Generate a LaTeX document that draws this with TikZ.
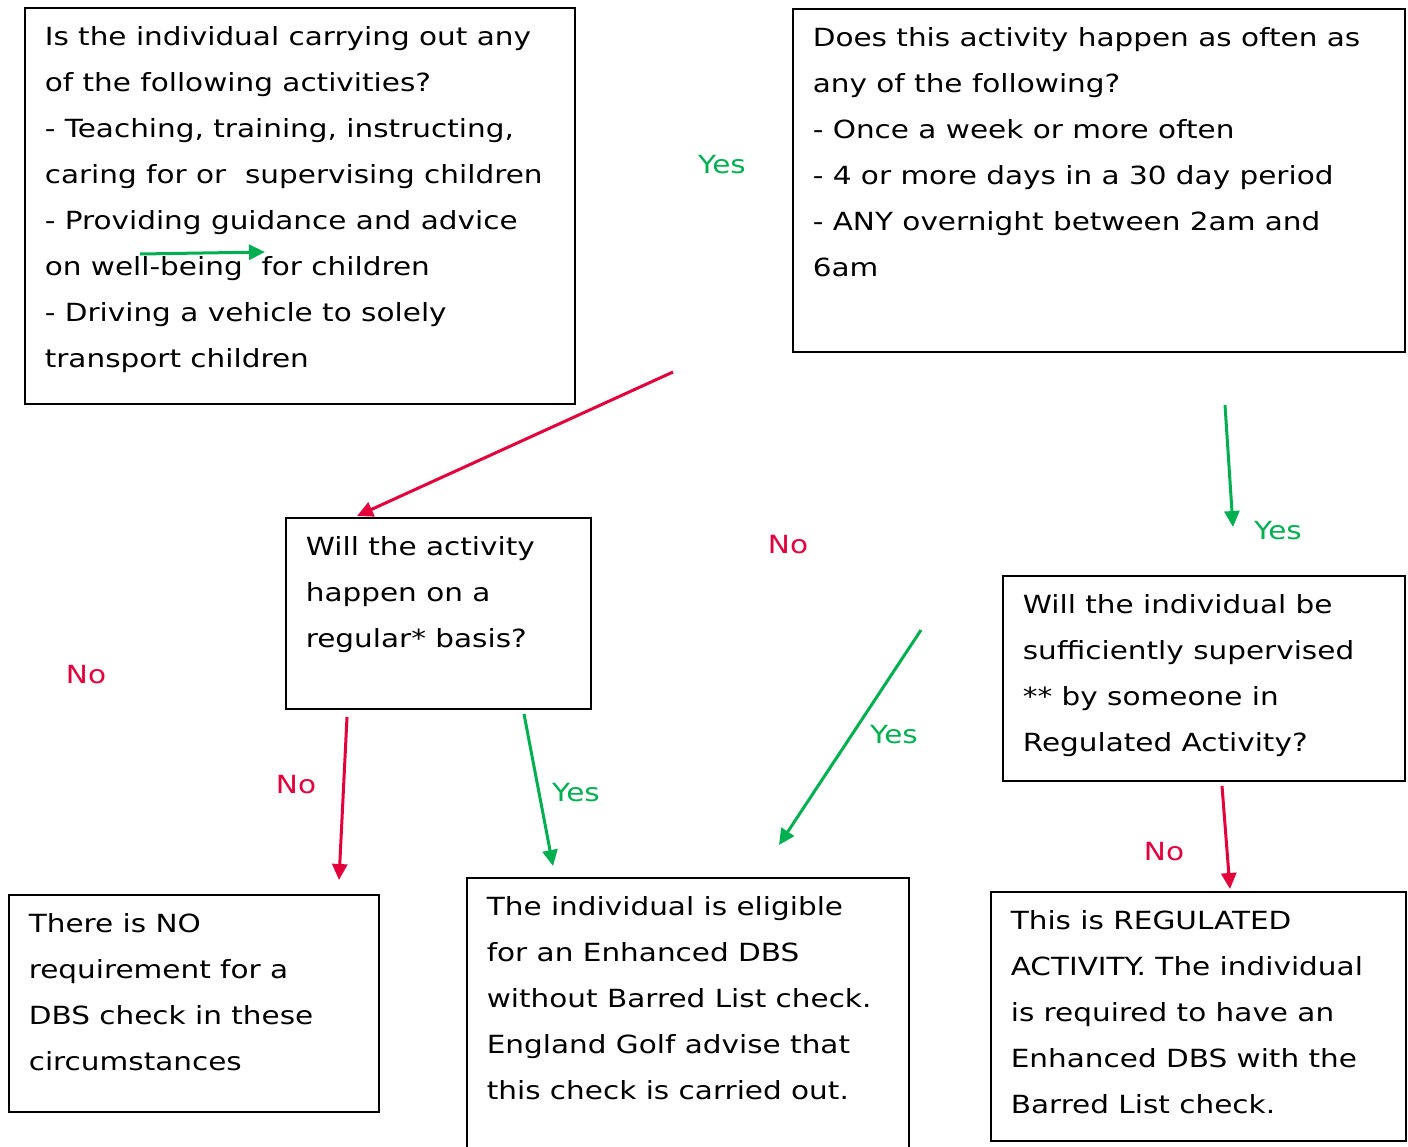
\documentclass[tikz,border=0pt]{standalone}
\usepackage{fontspec}
\setmainfont[FakeStretch=1.18]{DejaVu Sans}
\usetikzlibrary{arrows.meta}
\definecolor{yesgreen}{RGB}{0,176,80}
\definecolor{nored}{RGB}{227,0,59}
\newcommand{\qtext}[3]{\parbox[t][#2pt][t]{#1pt}{\raggedright #3}}
\begin{document}
\begin{tikzpicture}[x=1pt,y=-1pt,
  box/.style={draw, line width=1.6pt, anchor=north west, inner xsep=20pt, inner ysep=19pt, font=\fontsize{25}{46}\selectfont},
  yes/.style={text=yesgreen, font=\fontsize{25}{30}\selectfont},
  no/.style={text=nored, font=\fontsize{25}{30}\selectfont},
  go/.style={draw=yesgreen, line width=3pt, -{Triangle[length=16pt,width=15pt]}},
  stop/.style={draw=nored, line width=3pt, -{Triangle[length=16pt,width=15pt]}}]
\clip (0,0) rectangle (1408,1146);
\node[box] (act) at (24,7) {\qtext{510}{358}{Is the individual carrying out any\\
of the following activities?\\
- Teaching, training, instructing,\\
caring for or~ supervising children\\
- Providing guidance and advice\\
on well-being~ for children\\
- Driving a vehicle to solely\\
transport children}};
\node[box] (often) at (792,8) {\qtext{572}{305}{Does this activity happen as often as\\
any of the following?\\
- Once a week or more often\\
- 4 or more days in a 30 day period\\
- ANY overnight between 2am and\\
6am}};
\node[box] (regular) at (285,517) {\qtext{265}{153}{Will the activity\\
happen on a\\
regular* basis?}};
\node[box] (superv) at (1002,575) {\qtext{362}{167}{Will the individual be\\
sufficiently supervised\\
{}** by someone in\\
Regulated Activity?}};
\node[box] (nocheck) at (8,894) {\qtext{330}{179}{There is NO\\
requirement for a\\
DBS check in these\\
circumstances}};
\node[box] (enhanced) at (466,877) {\qtext{402}{280}{The individual is eligible\\
for an Enhanced DBS\\
without Barred List check.\\
England Golf advise that\\
this check is carried out.}};
\node[box] (regact) at (990,891) {\qtext{375}{211}{This is REGULATED\\
ACTIVITY. The individual\\
is required to have an\\
Enhanced DBS with the\\
Barred List check.}};
\coordinate (a1) at (140,254);
\coordinate (a2) at (265,252);
\coordinate (b1) at (673,372);
\coordinate (b2) at (357,516);
\coordinate (c1) at (1225,405);
\coordinate (c2) at (1233,527);
\coordinate (d1) at (921,630);
\coordinate (d2) at (779,845);
\coordinate (e1) at (1222,786);
\coordinate (e2) at (1230,889);
\coordinate (f1) at (347,717);
\coordinate (f2) at (339,880);
\coordinate (g1) at (524,714);
\coordinate (g2) at (553,866);
\draw[go] (a1) -- (a2);
\draw[stop] (b1) -- (b2);
\draw[go] (c1) -- (c2);
\draw[go] (d1) -- (d2);
\draw[stop] (e1) -- (e2);
\draw[stop] (f1) -- (f2);
\draw[go] (g1) -- (g2);
\node[yes] (yes1) at (722,165) {Yes};
\node[no] (no1) at (788,545) {No};
\node[yes] (yes2) at (1278,531) {Yes};
\node[no] (no2) at (86,675) {No};
\node[no] (no3) at (296,785) {No};
\node[yes] (yes3) at (576,793) {Yes};
\node[yes] (yes4) at (894,735) {Yes};
\node[no] (no4) at (1164,852) {No};
\end{tikzpicture}
\end{document}
